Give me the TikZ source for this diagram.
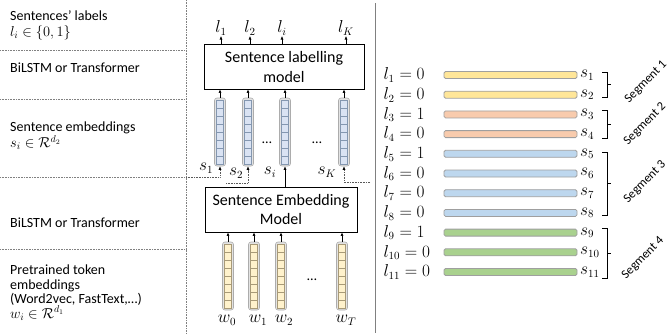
\documentclass[tikz,border=0pt]{standalone}
\usepackage{fontspec}
\setmainfont{Carlito}
\usetikzlibrary{arrows.meta}
\definecolor{cellblue}{HTML}{DAE3F3}
\definecolor{cellblueline}{HTML}{8497B0}
\definecolor{cellyel}{HTML}{FFF2CC}
\definecolor{cellyelline}{HTML}{A89A78}
\definecolor{barY}{HTML}{FFE699}
\definecolor{barO}{HTML}{F8CBAD}
\definecolor{barB}{HTML}{BDD7EE}
\definecolor{barG}{HTML}{A9D18E}
\begin{document}
\begin{tikzpicture}[x=1pt,y=-1pt,
  arr/.style={line width=0.6pt,-{Latex[length=3.5pt,width=3pt]}},
  dotarr/.style={gray!70!black,line width=0.6pt,dash pattern=on 0.8pt off 0.8pt,-{Latex[length=3.5pt,width=3pt,black]}},
  sepline/.style={gray,line width=0.6pt,dash pattern=on 0.8pt off 0.8pt},
  modelbox/.style={draw,line width=0.8pt,align=center,inner sep=0pt},
  lefttext/.style={anchor=west,align=left,font=\fontsize{14}{16}\selectfont,inner sep=0pt},
  mlabel/.style={inner sep=0.5pt,font=\fontsize{16}{18}\selectfont},
  rlabel/.style={inner sep=0.5pt,anchor=west,font=\fontsize{16}{18}\selectfont},
  dotstext/.style={inner sep=0pt,font=\fontsize{14}{16}\selectfont},
  segtext/.style={inner sep=0pt,rotate=45,font=\fontsize{12.5}{14}\selectfont},
  bar/.style={draw=gray!75,line width=0.8pt,rounded corners=1.5pt,minimum width=133pt,minimum height=7pt,inner sep=0pt},
  vecouter/.style={draw=gray!65,fill=gray!22,rounded corners=2.5pt,minimum width=11pt,minimum height=68pt,inner sep=0pt,line width=0.6pt},
  bracket/.style={line width=0.7pt},
  pics/svec/.style={code={
    \node[vecouter] (-box) at (0,0) {};
    \foreach \k in {0,...,7}{\draw[draw=cellblueline,fill=cellblue,line width=0.4pt] (-3.5,-32+\k*8) rectangle ++(7,8);}
  }},
  pics/wvec/.style={code={
    \node[vecouter] (-box) at (0,0) {};
    \foreach \k in {0,...,7}{\draw[draw=cellyelline,fill=cellyel,line width=0.4pt] (-3.5,-32+\k*8) rectangle ++(7,8);}
  }}
]
\useasboundingbox (0,0) rectangle (669,333);

% left column texts
\node[lefttext] (t1) at (10,25) {Sentences’ labels\\$l_i \in \{0,1\}$};
\node[lefttext] (t2) at (10,68) {BiLSTM or Transformer};
\node[lefttext] (t3) at (10,136) {Sentence embeddings\\$s_i \in \mathcal{R}^{d_2}$};
\node[lefttext] (t4) at (10,223) {BiLSTM or Transformer};
\node[lefttext,font=\fontsize{14}{14.5}\selectfont] (t5) at (10,292.5) {Pretrained token\\embeddings\\(Word2vec, FastText,…)\\$w_i \in \mathcal{R}^{d_1}$};

% separators
\draw[sepline] (0,50) -- (186,50);
\draw[sepline] (0,99) -- (186,99);
\draw[sepline] (0,177) -- (186,177);
\draw[sepline] (0,249) -- (186,249);
\draw[sepline] (186,0) -- (186,333);
\draw[gray,line width=0.8pt] (375,3) -- (375,333);

% models
\node[modelbox,minimum width=160pt,minimum height=45pt,font=\fontsize{16}{20}\selectfont] (m1) at (284,66.5) {Sentence labelling\\model};
\node[modelbox,minimum width=152pt,minimum height=45pt,font=\fontsize{16}{19}\selectfont] (m2) at (281,209.5) {Sentence Embedding\\Model};

% output labels
\node[mlabel,anchor=south] (l1) at (221,36) {$l_1$};
\node[mlabel,anchor=south] (l2) at (250,36) {$l_2$};
\node[mlabel,anchor=south] (li) at (282,36) {$l_i$};
\node[mlabel,anchor=south] (lK) at (346,36) {$l_K$};
\foreach \n in {l1,l2,li,lK}{\draw[arr] (m1.north -| \n.south) -- (\n.south);}

% sentence vectors
\pic (s1) at (220,132) {svec};
\pic (s2) at (248,132) {svec};
\pic (si) at (285,132) {svec};
\pic (sK) at (344,132) {svec};
\foreach \n in {s1,s2,si,sK}{\draw[arr] (\n-box.north) -- (\n-box.north |- m1.south);}
\node[dotstext] (ds1) at (267,143) {…};
\node[dotstext] (ds2) at (317,143) {…};

\node[mlabel] (ls1) at (206,168) {$s_1$};
\node[mlabel] (ls2) at (236,173) {$s_2$};
\node[mlabel] (lsi) at (270,172) {$s_i$};
\node[mlabel] (lsK) at (327,172) {$s_K$};

\coordinate (s1src) at (186,177);
\coordinate (s2src) at (226,183);
\coordinate (sKsrc) at (370,182);
\draw[dotarr] (s1src) -| (s1-box.south);
\draw[dotarr] (s2src) -| (s2-box.south);
\draw[dotarr] (sKsrc) -| (sK-box.south);
\draw[arr] (m2.north -| si-box.south) -- (si-box.south);

% word vectors
\pic (w0) at (228,276) {wvec};
\pic (w1) at (254,276) {wvec};
\pic (w2) at (281,276) {wvec};
\pic (wT) at (342,276) {wvec};
\foreach \n in {w0,w1,w2,wT}{\draw[arr] (\n-box.north) -- (\n-box.north |- m2.south);}
\node[dotstext] (dw) at (312,280) {…};
\node[mlabel] (lw0) at (227,320) {$w_0$};
\node[mlabel] (lw1) at (258,320) {$w_1$};
\node[mlabel] (lw2) at (284,320) {$w_2$};
\node[mlabel] (lwT) at (346,320) {$w_T$};

% right panel rows
\foreach \k/\v/\c in {1/0/barY,2/0/barY,3/1/barO,4/0/barO,5/1/barB,6/0/barB,7/0/barB,8/0/barB,9/1/barG,10/0/barG,11/0/barG}{
  \pgfmathsetmacro{\yy}{75+(\k-1)*19.7}
  \node[rlabel] (r\k) at (383,\yy) {$l_{\k} = \v$};
  \node[bar,fill=\c] (b\k) at (510.5,\yy) {};
  \node[rlabel,anchor=west] (rs\k) at ([xshift=2pt]b\k.east) {$s_{\k}$};
}

% brackets
\draw[bracket] (602,72) -- (607,72) -- (607,97) -- (602,97) (607,84.5) -- (611,84.5);
\draw[bracket] (602,110) -- (607,110) -- (607,138) -- (602,138) (607,124) -- (611,124);
\draw[bracket] (602,152) -- (607,152) -- (607,215) -- (602,215) (607,183.5) -- (611,183.5);
\draw[bracket] (602,228) -- (607,228) -- (607,278) -- (602,278) (607,253) -- (611,253);

\node[segtext] (seg1) at (646,82) {Segment 1};
\node[segtext] (seg2) at (645,124) {Segment 2};
\node[segtext] (seg3) at (645,182) {Segment 3};
\node[segtext] (seg4) at (643,258) {Segment 4};
\end{tikzpicture}
\end{document}
